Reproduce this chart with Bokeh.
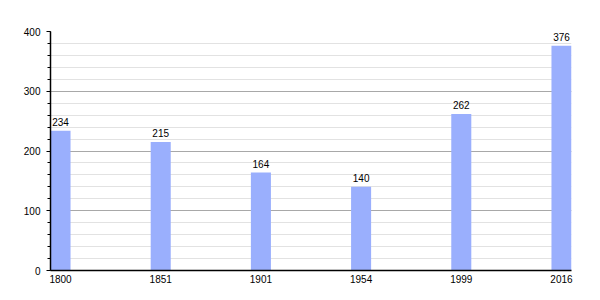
from bokeh.plotting import figure
from bokeh.models import FixedTicker, ColumnDataSource, Range1d
from bokeh.core.properties import value
from bokeh.embed import file_html
from bokeh.resources import INLINE

years = ["1800", "1851", "1901", "1954", "1999", "2016"]
population = [234, 215, 164, 140, 262, 376]
y_ticks = [0, 100, 200, 300, 400]

idx = list(range(len(years)))
src = ColumnDataSource(dict(x=idx, top=population, label=[str(v) for v in population]))

p = figure(width=600, height=300, output_backend="svg", toolbar_location=None,
           x_range=Range1d(-0.1, len(years) - 0.9), y_range=Range1d(0, 400),
           min_border_left=50, min_border_right=29, min_border_top=31, min_border_bottom=30)
p.outline_line_color = None
p.background_fill_color = "white"

p.vbar(x="x", top="top", width=0.2, source=src, fill_color="#9aaffd", line_color=None)
p.text(x="x", y="top", text="label", source=src, text_align="center", text_baseline="bottom",
       y_offset=-5, text_font=value("Liberation Sans"), text_font_size="10px", text_color="black")

p.xaxis.ticker = FixedTicker(ticks=idx)
p.xaxis.major_label_overrides = {i: y for i, y in enumerate(years)}
p.xaxis.major_tick_line_color = None
p.xaxis.major_tick_in = 0
p.xaxis.major_tick_out = 0
p.xaxis.minor_tick_line_color = None
p.xaxis.minor_tick_in = 0
p.xaxis.minor_tick_out = 0
p.xaxis.axis_line_color = "black"
p.xaxis.axis_line_width = 1.5
p.xaxis.major_label_standoff = 4
p.xaxis.major_label_text_font = "Liberation Sans"
p.xaxis.major_label_text_font_size = "10px"
p.xaxis.major_label_text_color = "black"

p.yaxis.ticker = FixedTicker(ticks=y_ticks, minor_ticks=list(range(0, 401, 20)))
p.yaxis.axis_line_color = "black"
p.yaxis.axis_line_width = 1.5
p.yaxis.major_tick_in = 0
p.yaxis.major_tick_out = 4
p.yaxis.minor_tick_in = 0
p.yaxis.minor_tick_out = 3
p.yaxis.major_tick_line_color = "black"
p.yaxis.minor_tick_line_color = "black"
p.yaxis.major_label_standoff = 6
p.yaxis.major_label_text_font = "Liberation Sans"
p.yaxis.major_label_text_font_size = "10px"
p.yaxis.major_label_text_color = "black"

p.xgrid.grid_line_color = None
p.ygrid.grid_line_color = "#a8a8a8"
p.ygrid.minor_grid_line_color = "#e2e2e2"

open("out.html", "w").write(file_html(p, INLINE))
